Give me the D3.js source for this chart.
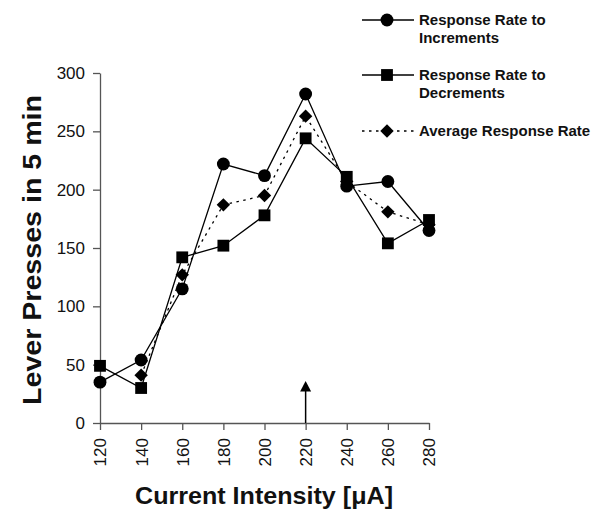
<!DOCTYPE html>
<html><head><meta charset="utf-8">
<script src="https://cdn.jsdelivr.net/npm/d3@7"></script>
<style>body{margin:0;background:#fff}svg{display:block}text{font-family:"Liberation Sans",Arial,sans-serif}</style>
</head><body>
<svg id="c" width="594" height="510"></svg>
<script>
const currents = [120,140,160,180,200,220,240,260,280];
const increments = [35,54,115,222,212,282,203,207,165];
const decrements = [49,30,142,152,178,244,211,154,174];
const average = [null,41,127,187,195,263,207,181,170];
const yTicks = [0,50,100,150,200,250,300];
const arrowAt = 220;

const svg = d3.select("#c");
const x = d3.scaleLinear().domain([120,280]).range([100,429]);
const y = d3.scaleLinear().domain([0,300]).range([423,73]);
const axisColor = "#555";

// axes
const yAxis = svg.append("g").attr("transform","translate(100,0)")
  .call(d3.axisLeft(y).tickValues(yTicks).tickSize(7).tickSizeOuter(0).tickPadding(8));
yAxis.select(".domain").attr("stroke",axisColor).attr("stroke-width",1.3);
yAxis.selectAll(".tick line").attr("stroke",axisColor).attr("stroke-width",1.3);
yAxis.selectAll("text").attr("font-size",17).attr("fill","#111");

const xAxis = svg.append("g").attr("transform","translate(0,423)")
  .call(d3.axisBottom(x).tickValues(currents).tickSize(7).tickSizeOuter(0).tickPadding(4));
xAxis.select(".domain").attr("stroke",axisColor).attr("stroke-width",1.3);
xAxis.selectAll(".tick line").attr("stroke",axisColor).attr("stroke-width",1.3);
xAxis.selectAll("text").attr("font-size",17).attr("fill","#111")
  .attr("transform","rotate(-90)").attr("text-anchor","end")
  .attr("x",-15).attr("y",0).attr("dy","0.35em");

// arrow
svg.append("line").attr("x1",x(arrowAt)).attr("x2",x(arrowAt))
  .attr("y1",y(0)).attr("y2",y(28)).attr("stroke","#000").attr("stroke-width",1.5);
svg.append("path").attr("d",`M${x(arrowAt)-5.5},${y(27)}L${x(arrowAt)+5.5},${y(27)}L${x(arrowAt)},${y(36)}Z`).attr("fill","#000");

const line = d3.line().defined(d=>d!=null).x((d,i)=>x(currents[i])).y(d=>y(d));
const diamond = {draw(ctx,size){const r=Math.sqrt(size/2);ctx.moveTo(0,-r);ctx.lineTo(r,0);ctx.lineTo(0,r);ctx.lineTo(-r,0);ctx.closePath();}};

function drawSeries(vals, dash, shape, size){
  svg.append("path").datum(vals).attr("d",line).attr("fill","none")
    .attr("stroke","#000").attr("stroke-width",1.3).attr("stroke-dasharray",dash);
  svg.append("g").selectAll("path").data(vals.map((v,i)=>({v,i})).filter(d=>d.v!=null)).join("path")
    .attr("transform",d=>`translate(${x(currents[d.i])},${y(d.v)})`)
    .attr("d",d3.symbol().type(shape).size(size)).attr("fill","#000");
}
drawSeries(average,"2.5,4.5",diamond,90);
drawSeries(decrements,null,d3.symbolSquare,140);
drawSeries(increments,null,d3.symbolCircle,130);

// legend
const legend = [
  {lines:["Response Rate to","Increments"], shape:d3.symbolCircle, size:130, dash:null, y:20},
  {lines:["Response Rate to","Decrements"], shape:d3.symbolSquare, size:140, dash:null, y:75},
  {lines:["Average Response Rate"], shape:diamond, size:90, dash:"2.5,4.5", y:131}
];
const lg = svg.append("g");
legend.forEach(l=>{
  lg.append("line").attr("x1",362).attr("x2",414).attr("y1",l.y).attr("y2",l.y)
    .attr("stroke","#000").attr("stroke-width",1.3).attr("stroke-dasharray",l.dash);
  lg.append("path").attr("transform",`translate(387,${l.y})`)
    .attr("d",d3.symbol().type(l.shape).size(l.size)).attr("fill","#000");
  l.lines.forEach((t,j)=>{
    lg.append("text").attr("x",419).attr("y",l.y+j*18).attr("dy","0.35em")
      .attr("font-size",15).attr("font-weight","bold").attr("fill","#111").text(t);
  });
});

// axis titles
svg.append("text").attr("transform","translate(32,250) rotate(-90)")
  .attr("text-anchor","middle").attr("dy","0.35em")
  .attr("font-size",25).attr("font-weight","bold").attr("fill","#111")
  .attr("textLength",310).attr("lengthAdjust","spacingAndGlyphs").text("Lever Presses in 5 min");
svg.append("text").attr("x",264).attr("y",496).attr("text-anchor","middle").attr("dy","0.35em")
  .attr("font-size",24).attr("font-weight","bold").attr("fill","#111")
  .attr("textLength",258).attr("lengthAdjust","spacingAndGlyphs").text("Current Intensity [μA]");
</script>
</body></html>
